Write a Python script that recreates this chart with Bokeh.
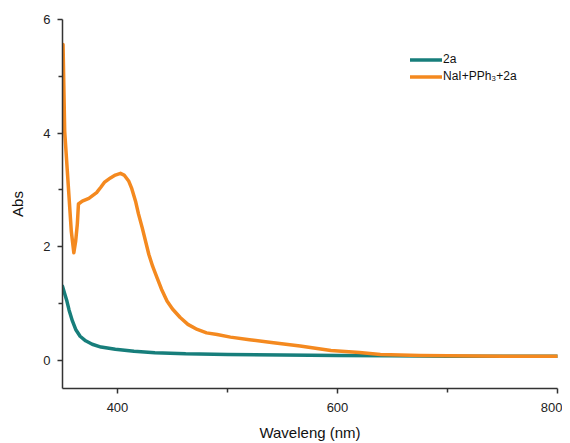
from bokeh.plotting import figure
from bokeh.models import FixedTicker, Range1d, Legend, LegendItem
from bokeh.embed import file_html
from bokeh.resources import INLINE

# Data
wl_2a = [350, 352, 354, 356, 359, 362, 366, 371, 377, 385, 398, 415, 434, 462, 500, 550, 600, 650, 700, 750, 800]
abs_2a = [1.30, 1.17, 1.04, 0.88, 0.69, 0.54, 0.42, 0.34, 0.28, 0.23, 0.19, 0.155, 0.13, 0.11, 0.10, 0.09, 0.08, 0.075, 0.07, 0.07, 0.07]

wl_mix = [350.5, 352, 355, 358, 360.3, 362, 363.5, 364.5, 368, 374, 381, 385, 388, 393.6, 398, 402.7, 406, 410.3,
          413, 416.4, 419, 422.5, 428.5, 432, 436, 440, 445, 450, 457, 464, 472.5, 481, 490.6, 502.7, 520, 540,
          566, 594, 620, 639, 675, 700, 750, 800]
abs_mix = [5.56, 4.03, 3.15, 2.27, 1.89, 2.10, 2.40, 2.75, 2.80, 2.85, 2.95, 3.05, 3.13, 3.21, 3.26, 3.29, 3.26, 3.15,
           3.02, 2.80, 2.58, 2.33, 1.86, 1.65, 1.45, 1.25, 1.04, 0.90, 0.75, 0.63, 0.54, 0.48, 0.45, 0.405, 0.36, 0.31,
           0.25, 0.17, 0.135, 0.10, 0.08, 0.075, 0.07, 0.07]

y_ticks = [0, 2, 4, 6]
y_minor = [1, 3, 5]
x_ticks = [400, 600, 800]
x_minor = [500, 700]

TEAL = "#177e7b"
ORANGE = "#f4891f"
FONT = "Liberation Sans"

p = figure(width=562, height=443, output_backend="svg", toolbar_location=None,
           x_range=Range1d(350, 800), y_range=Range1d(-0.5, 6),
           min_border_left=62, min_border_right=5, min_border_top=19, min_border_bottom=55)
p.outline_line_color = None
p.xgrid.visible = False
p.ygrid.visible = False
p.background_fill_color = "white"

r1 = p.line(wl_2a, abs_2a, line_color=TEAL, line_width=3.5, line_join="round", line_cap="round")
r2 = p.line(wl_mix, abs_mix, line_color=ORANGE, line_width=3.5, line_join="round", line_cap="round")

p.xaxis.ticker = FixedTicker(ticks=x_ticks, minor_ticks=x_minor)
p.yaxis.ticker = FixedTicker(ticks=y_ticks, minor_ticks=y_minor)

for ax in (p.xaxis[0], p.yaxis[0]):
    ax.axis_line_color = "#333333"
    ax.axis_line_width = 1.5
    ax.major_tick_line_color = "#333333"
    ax.minor_tick_line_color = "#333333"
    ax.major_tick_line_width = 1.5
    ax.minor_tick_line_width = 1.5
    ax.major_tick_out = 5
    ax.major_tick_in = 0
    ax.minor_tick_out = 4
    ax.minor_tick_in = 0
    ax.major_label_text_font = FONT
    ax.major_label_text_font_size = "13px"
    ax.major_label_text_color = "#222222"
    ax.axis_label_text_font = FONT
    ax.axis_label_text_font_size = "15px"
    ax.axis_label_text_font_style = "normal"
    ax.axis_label_text_color = "#111111"

p.xaxis.axis_label = "Waveleng (nm)"
p.yaxis.axis_label = "Abs"
p.xaxis.major_label_standoff = 9
p.yaxis.major_label_standoff = 7
p.xaxis.axis_label_standoff = 9
p.yaxis.axis_label_standoff = 14

legend = Legend(items=[LegendItem(label="2a", renderers=[r1]),
                       LegendItem(label="NaI+PPh\u2083+2a", renderers=[r2])],
                location=(348, 305))
legend.border_line_color = None
legend.background_fill_alpha = 0
legend.margin = 0
legend.padding = 0
legend.spacing = 3
legend.glyph_width = 32
legend.glyph_height = 13
legend.label_height = 13
legend.label_standoff = 1
legend.label_text_font = FONT
legend.label_text_font_size = "12px"
legend.label_text_color = "#111111"
p.add_layout(legend)

open("out.html", "w").write(file_html(p, INLINE))
